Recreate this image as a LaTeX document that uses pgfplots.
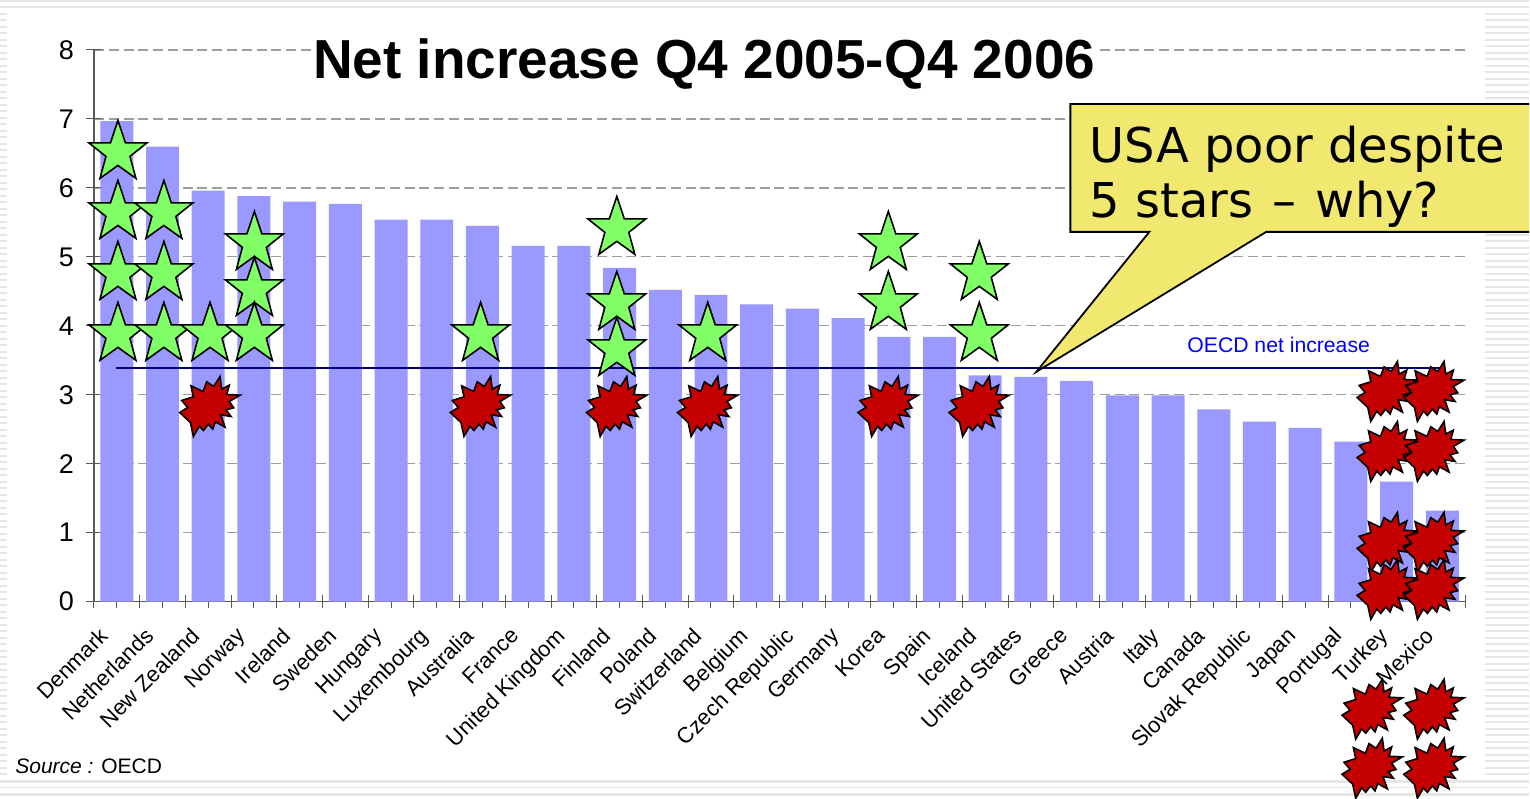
\documentclass[border=0pt]{standalone}
\usepackage{fontspec}
\setmainfont{Liberation Sans}
\newfontfamily\calloutfont{DejaVu Sans}
\usepackage{pgfplots}
\pgfplotsset{compat=1.18}

\definecolor{barblue}{HTML}{9999FF}
\definecolor{stargreen}{HTML}{80FF66}
\definecolor{burstred}{HTML}{C40000}
\definecolor{noteyellow}{HTML}{F0E86F}
\definecolor{stripe}{HTML}{E6E6E6}

% marks are traced in reference pixels, 1px = 0.5pt
\def\sp#1#2{\pgfpathlineto{\pgfpoint{#1*0.5pt}{(30.5-#2)*0.5pt}}}
\pgfdeclareplotmark{bigstar}{%
  \pgfpathmoveto{\pgfpoint{0pt}{14.5pt}}
  \sp{7.5}{24}\sp{29}{24}\sp{12}{37.5}\sp{18}{59.5}\sp{0}{46.5}
  \sp{-18}{59.5}\sp{-12}{37.5}\sp{-29}{24}\sp{-7.5}{24}
  \pgfpathclose\pgfusepathqfillstroke}
\def\bp#1#2{\pgfpathlineto{\pgfpoint{(#1-105)/6*1pt}{(100-#2)/6*1pt}}}
\pgfdeclareplotmark{burst}{%
  \pgfpathmoveto{\pgfpoint{5pt}{14.67pt}}
  \bp{140}{50}\bp{163}{38}\bp{155}{66}\bp{195}{68}\bp{163}{87}\bp{176}{106}
  \bp{153}{112}\bp{168}{132}\bp{137}{127}\bp{150}{164}\bp{121}{148}\bp{113}{170}
  \bp{100}{155}\bp{85}{174}\bp{73}{161}\bp{55}{192}\bp{46}{150}\bp{14}{120}
  \bp{38}{105}\bp{20}{84}\bp{55}{73}\bp{48}{40}\bp{84}{57}\bp{95}{28}\bp{116}{42}
  \pgfpathclose\pgfusepathqfillstroke}

\pgfplotsset{
  layers/under labels/.define layer set={
    axis background,axis grid,axis ticks,axis lines,axis tick labels,
    pre main,main,axis descriptions,axis foreground}{},
}

\begin{document}
\begin{tikzpicture}
\begin{scope}[x=0.5pt,y=-0.5pt,yshift=398.5pt]
  \useasboundingbox (0,0) rectangle (1530,797);
  % slide background stripes
  \fill[stripe] (0,0) rectangle (1530,2.5);
  \fill[stripe] (0,6.5) rectangle (1530,8);
  \foreach \y in {13,19.5,...,776}{
    \fill[stripe] (0,\y) rectangle (7,\y+2);
    \fill[stripe] (1486,\y) rectangle (1530,\y+2);
  }
  \fill[stripe] (0,780.5) rectangle (1530,783);
  \fill[stripe] (0,787) rectangle (1530,788);
  \fill[stripe] (0,793.5) rectangle (1530,796);
\end{scope}
\begin{axis}[
  at={(47pt,97.5pt)}, anchor=south west,
  scale only axis,
  width=686pt, height=276pt,
  set layers=under labels,
  clip=false,
  xmin=0, xmax=30, ymin=0, ymax=8,
  axis x line=bottom, axis y line=left,
  axis line style={-, draw=black!65, line width=0.6pt},
  tick align=center,
  major tick length=8pt,
  tick style={draw=black!65, line width=0.5pt},
  xtick={0,...,30}, xticklabels={},
  ytick={0,...,8},
  xtick style={/pgfplots/major tick length=6.5pt},
  ymajorgrids,
  grid style={draw=black!38, line width=0.6pt, dash pattern=on 5pt off 2.4pt},
  /pgf/number format/assume math mode=true,
  yticklabel style={font=\fontsize{13.5}{15}\selectfont, xshift=-2.5pt},
  extra x ticks={0.5,1.5,...,29.5},
  extra x tick labels={Denmark,Netherlands,New Zealand,Norway,Ireland,Sweden,Hungary,Luxembourg,Australia,France,United Kingdom,Finland,Poland,Switzerland,Belgium,Czech Republic,Germany,Korea,Spain,Iceland,United States,Greece,Austria,Italy,Canada,Slovak Republic,Japan,Portugal,Turkey,Mexico},
  extra x tick style={
    major tick length=0pt,
    tick label style={rotate=45, anchor=north east, font=\fontsize{11}{13}\selectfont, xshift=-11.8pt, yshift=1.5pt},
  },
  title={Net increase Q4 2005-Q4 2006},
  title style={at={(0.445,0.949)}, anchor=base, yshift=-6pt, fill=white, inner sep=1pt,
    font=\fontsize{27.5}{32}\selectfont\bfseries},
]
  \addplot[ybar, bar width=16.5pt, fill=barblue, draw=none] coordinates {
    (0.5,6.97) (1.5,6.6) (2.5,5.96) (3.5,5.88) (4.5,5.8) (5.5,5.77)
    (6.5,5.54) (7.5,5.54) (8.5,5.45) (9.5,5.16) (10.5,5.16) (11.5,4.84)
    (12.5,4.52) (13.5,4.45) (14.5,4.31) (15.5,4.25) (16.5,4.11) (17.5,3.84)
    (18.5,3.84) (19.5,3.28) (20.5,3.26) (21.5,3.2) (22.5,2.99) (23.5,2.99)
    (24.5,2.79) (25.5,2.61) (26.5,2.52) (27.5,2.32) (28.5,1.74) (29.5,1.32)
  };
  % OECD average
  \addplot[draw=black!20!blue!60!black, line width=0.8pt] coordinates {(0.48,3.39) (29.45,3.39)};
  \node[text=blue, font=\fontsize{10.6}{12}\selectfont] at (axis cs:25.92,3.72) {OECD net increase};
  % stars, upper ones first
  \addplot[only marks, mark=bigstar, mark options={fill=stargreen, draw=black, line width=0.8pt, line join=miter}] coordinates {
    (0.525,6.558) (0.525,5.688) (0.525,4.804) (0.525,3.92)
    (1.53,5.688) (1.53,4.804) (1.53,3.92)
    (2.54,3.92)
    (3.51,5.239) (3.51,4.572) (3.51,3.92)
    (8.46,3.92)
    (11.44,5.457) (11.44,4.37) (11.44,3.703)
    (13.43,3.92)
    (17.38,5.239) (17.38,4.37)
    (19.37,4.804) (19.37,3.92)
  };
  % bursts
  \addplot[only marks, mark=burst, mark options={fill=burstred, draw=black, line width=0.8pt, line join=miter}] coordinates {
    (2.54,2.84) (8.46,2.84) (11.44,2.84) (13.43,2.84) (17.38,2.84) (19.37,2.84)
    (28.3,3.058) (29.32,3.058) (28.3,2.188) (29.32,2.188)
    (28.3,0.87) (29.32,0.87) (28.3,0.188) (29.32,0.188)
    (27.97,-1.55) (29.32,-1.55) (27.97,-2.406) (29.32,-2.406)
  };
\end{axis}
\begin{scope}[x=0.5pt,y=-0.5pt,yshift=398.5pt]
  % callout
  \filldraw[fill=noteyellow, draw=black, line width=0.9pt, line join=miter]
    (1530,104) -- (1071,104) -- (1071,232) -- (1150,232) -- (1037,372) -- (1267,232) -- (1530,232);
  \node[anchor=base west, inner sep=0pt, font=\calloutfont\fontsize{24}{30}\selectfont] at (1090,163) {USA poor despite};
  \node[anchor=base west, inner sep=0pt, font=\calloutfont\fontsize{24}{30}\selectfont] at (1090,218) {5 stars\kern2pt\ –\kern2pt\ why?};
  \node[anchor=base west, inner sep=0pt, font=\fontsize{10.5}{13}\selectfont] at (15,774) {\textit{Source :} OECD};
\end{scope}
\end{tikzpicture}
\end{document}
